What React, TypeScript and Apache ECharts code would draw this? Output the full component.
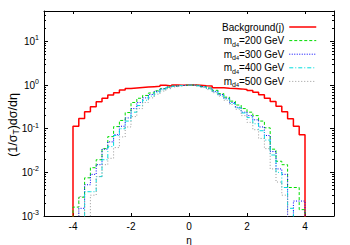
import React, { useEffect, useRef } from 'react';
import * as echarts from 'echarts';

// Bin edges in eta (bin width 0.2)
const binEdges = [
  -4.0, -3.8, -3.6, -3.4, -3.2, -3.0, -2.8, -2.6, -2.4, -2.2, -2.0,
  -1.8, -1.6, -1.4, -1.2, -1.0, -0.8, -0.6, -0.4, -0.2, 0.0,
  0.2, 0.4, 0.6, 0.8, 1.0, 1.2, 1.4, 1.6, 1.8, 2.0,
  2.2, 2.4, 2.6, 2.8, 3.0, 3.2, 3.4, 3.6, 3.8, 4.0,
];

// Normalised distributions (1/sigma_T) dsigma/deta per bin; 0 = empty bin
const background = [
  0.114, 0.172, 0.245, 0.32, 0.417, 0.5, 0.59, 0.67, 0.77, 0.84,
  0.86, 0.88, 0.9, 0.92, 0.94, 0.99, 0.96, 1.0, 0.99, 1.0,
  1.0, 0.99, 0.97, 0.96, 0.875, 0.87, 0.85, 0.84, 0.82, 0.79,
  0.75, 0.69, 0.6, 0.5, 0.42, 0.33, 0.245, 0.17, 0.114, 0.073,
];
const m200 = [
  0.0016, 0.0027, 0.0075, 0.0128, 0.0195, 0.035, 0.066, 0.112, 0.155, 0.235,
  0.4, 0.5, 0.58, 0.66, 0.74, 0.83, 0.9, 0.95, 0.98, 1.0,
  1.0, 0.98, 0.93, 0.86, 0.76, 0.64, 0.53, 0.43, 0.35, 0.29,
  0.24, 0.2, 0.15, 0.105, 0.034, 0.018, 0.015, 0.0045, 0.0045, 0.0014,
];
const m300 = [
  0, 0.0015, 0.0052, 0.009, 0.015, 0.034, 0.05, 0.073, 0.114, 0.177,
  0.29, 0.4, 0.51, 0.61, 0.72, 0.82, 0.9, 0.95, 0.98, 1.0,
  1.0, 0.97, 0.92, 0.85, 0.72, 0.61, 0.5, 0.4, 0.31, 0.24,
  0.2, 0.16, 0.11, 0.07, 0.03, 0.012, 0.009, 0, 0.0022, 0.0022,
];
const m400 = [
  0, 0, 0.0036, 0.0036, 0.008, 0.0195, 0.039, 0.07, 0.1, 0.15,
  0.24, 0.34, 0.45, 0.56, 0.67, 0.78, 0.87, 0.94, 0.98, 1.0,
  1.0, 0.96, 0.9, 0.82, 0.7, 0.58, 0.48, 0.38, 0.3, 0.23,
  0.18, 0.13, 0.09, 0.055, 0.025, 0.01, 0.0045, 0.0015, 0, 0,
];
const m500 = [
  0, 0.0028, 0, 0.003, 0.008, 0.015, 0.021, 0.037, 0.065, 0.11,
  0.19, 0.29, 0.4, 0.51, 0.62, 0.73, 0.83, 0.91, 0.97, 1.0,
  1.0, 0.96, 0.88, 0.79, 0.67, 0.56, 0.45, 0.36, 0.28, 0.2,
  0.14, 0.095, 0.06, 0.035, 0.012, 0.006, 0.003, 0, 0, 0,
];

const seriesNames = ['Background(j)', 'm_d4=200 GeV', 'm_d4=300 GeV', 'm_d4=400 GeV', 'm_d4=500 GeV'];
const xTickValues = [-4, -2, 0, 2, 4];
const yMin = 0.001;
const yMax = 50;

const FONT = "'Liberation Sans', Arial, Helvetica, sans-serif";
const FLOOR = 1e-5; // below the axis minimum: empty bins drop to the floor

function stepPoints(values: number[]): [number, number][] {
  const pts: [number, number][] = [[binEdges[0], FLOOR]];
  values.forEach((v, i) => pts.push([binEdges[i], v > 0 ? v : FLOOR]));
  const last = values[values.length - 1];
  pts.push([binEdges[binEdges.length - 1], last > 0 ? last : FLOOR]);
  pts.push([binEdges[binEdges.length - 1], FLOOR]);
  return pts;
}

const minorLogTicks: number[] = [];
for (let e = -3; e <= 1; e++) {
  for (let k = 2; k <= 9; k++) {
    const v = k * Math.pow(10, e);
    if (v < yMax) minorLogTicks.push(Math.log10(v));
  }
}

export default function App() {
  const ref = useRef<HTMLDivElement>(null);
  useEffect(() => {
    document.body.style.margin = '0';
    const chart = echarts.init(ref.current!, undefined, { renderer: 'svg' });
    const styles = [
      { color: '#ff0000', width: 1.5, type: 'solid' as any },
      { color: '#00dd00', width: 1, type: [3, 2] },
      { color: '#0000ff', width: 1, type: [1, 1.5] },
      { color: '#00dddd', width: 1, type: [4, 2, 1, 2] },
      { color: '#999999', width: 1, type: [1, 2] },
    ];
    const datasets = [background, m200, m300, m400, m500];
    const axisLine = { show: true, onZero: false, lineStyle: { color: '#000', width: 1 } };
    const logLabel = (v: number) => {
      const e = Math.log10(v);
      const r = Math.round(e);
      if (Math.abs(e - r) > 1e-6) return '';
      return `{b|10}{s|${r}}`;
    };
    chart.setOption({
      animation: false,
      backgroundColor: '#fff',
      grid: { left: 44, right: 16, top: 11, bottom: 29, containLabel: false, outerBoundsMode: 'none' },
      legend: {
        orient: 'vertical',
        align: 'right',
        right: 28,
        top: 15,
        itemWidth: 27,
        itemHeight: 10,
        itemGap: -0.4,
        data: seriesNames,
        itemStyle: { color: 'rgba(0,0,0,0)', borderColor: 'rgba(0,0,0,0)', borderWidth: 0 },
        lineStyle: { width: 'inherit' },
        formatter: (name: string) => {
          const m = name.match(/^m_d4(.*)$/);
          if (m) return `{m|m}{d|d}{f|4}{t|${m[1]}}`;
          return `{t|${name}}`;
        },
        textStyle: {
          fontFamily: FONT,
          fontSize: 10,
          color: '#000',
          lineHeight: 14,
          rich: {
            t: { fontFamily: FONT, fontSize: 10, color: '#000', lineHeight: 14 },
            m: { fontFamily: FONT, fontSize: 10, color: '#000', lineHeight: 14 },
            d: { fontFamily: FONT, fontSize: 7, color: '#000', lineHeight: 9, verticalAlign: 'bottom' },
            f: { fontFamily: FONT, fontSize: 5.5, color: '#000', lineHeight: 3, verticalAlign: 'bottom' },
          },
        },
      },
      graphic: [
        {
          type: 'text',
          x: 13,
          y: 125,
          rotation: Math.PI / 2,
          style: {
            text: '(1/σ{s|T})dσ/dη',
            fontFamily: FONT,
            fontSize: 12.5,
            fill: '#000',
            align: 'center',
            verticalAlign: 'middle',
            lineHeight: 15,
            rich: {
              s: { fontFamily: FONT, fontSize: 8.5, fill: '#000', lineHeight: 8, verticalAlign: 'bottom' },
            },
          },
        },
      ],
      xAxis: [
        {
          type: 'value',
          min: -5,
          max: 5,
          position: 'bottom',
          axisLine,
          axisTick: { show: true, inside: true, length: 3, customValues: xTickValues, lineStyle: { color: '#000' } },
          axisLabel: { show: true, customValues: xTickValues, fontFamily: FONT, fontSize: 10, color: '#000', margin: 5 },
          splitLine: { show: false },
          name: 'η',
          nameLocation: 'middle',
          nameGap: 17,
          nameTextStyle: { fontFamily: FONT, fontSize: 10, color: '#000' },
        },
        {
          type: 'value',
          min: -5,
          max: 5,
          position: 'top',
          axisLine,
          axisTick: { show: true, inside: true, length: 3, customValues: xTickValues, lineStyle: { color: '#000' } },
          axisLabel: { show: false },
          splitLine: { show: false },
        },
      ],
      yAxis: [
        {
          type: 'log',
          logBase: 10,
          min: yMin,
          max: yMax,
          position: 'left',
          axisLine,
          axisTick: { show: true, inside: true, length: 4, lineStyle: { color: '#000' } },
          axisLabel: {
            formatter: logLabel,
            margin: 5,
            fontFamily: FONT,
            color: '#000',
            rich: {
              b: { fontFamily: FONT, fontSize: 10, color: '#000', lineHeight: 14 },
              s: { fontFamily: FONT, fontSize: 7, color: '#000', lineHeight: 3, verticalAlign: 'top' },
            },
          },
          splitLine: { show: false },
        },
        {
          type: 'log',
          logBase: 10,
          min: yMin,
          max: yMax,
          position: 'right',
          axisLine,
          axisTick: { show: true, inside: true, length: 4, lineStyle: { color: '#000' } },
          axisLabel: { show: false },
          splitLine: { show: false },
        },
        {
          type: 'value',
          min: -3,
          max: Math.log10(yMax),
          position: 'left',
          axisLine: { show: false, onZero: false },
          axisTick: { show: true, inside: true, length: 2, customValues: minorLogTicks, lineStyle: { color: '#000' } },
          axisLabel: { show: false },
          splitLine: { show: false },
        },
        {
          type: 'value',
          min: -3,
          max: Math.log10(yMax),
          position: 'right',
          axisLine: { show: false, onZero: false },
          axisTick: { show: true, inside: true, length: 2, customValues: minorLogTicks, lineStyle: { color: '#000' } },
          axisLabel: { show: false },
          splitLine: { show: false },
        },
      ],
      series: datasets.map((vals, i) => ({
        name: seriesNames[i],
        type: 'line',
        step: 'end',
        xAxisIndex: 0,
        yAxisIndex: 0,
        symbol: 'none',
        clip: true,
        data: stepPoints(vals),
        lineStyle: styles[i],
        itemStyle: { color: styles[i].color },
        color: styles[i].color,
      })),
    });
    return () => chart.dispose();
  }, []);
  return (
    <div
      ref={ref}
      style={{ position: 'fixed', left: 0, top: 0, width: 350, height: 245, background: '#fff' }}
    />
  );
}
